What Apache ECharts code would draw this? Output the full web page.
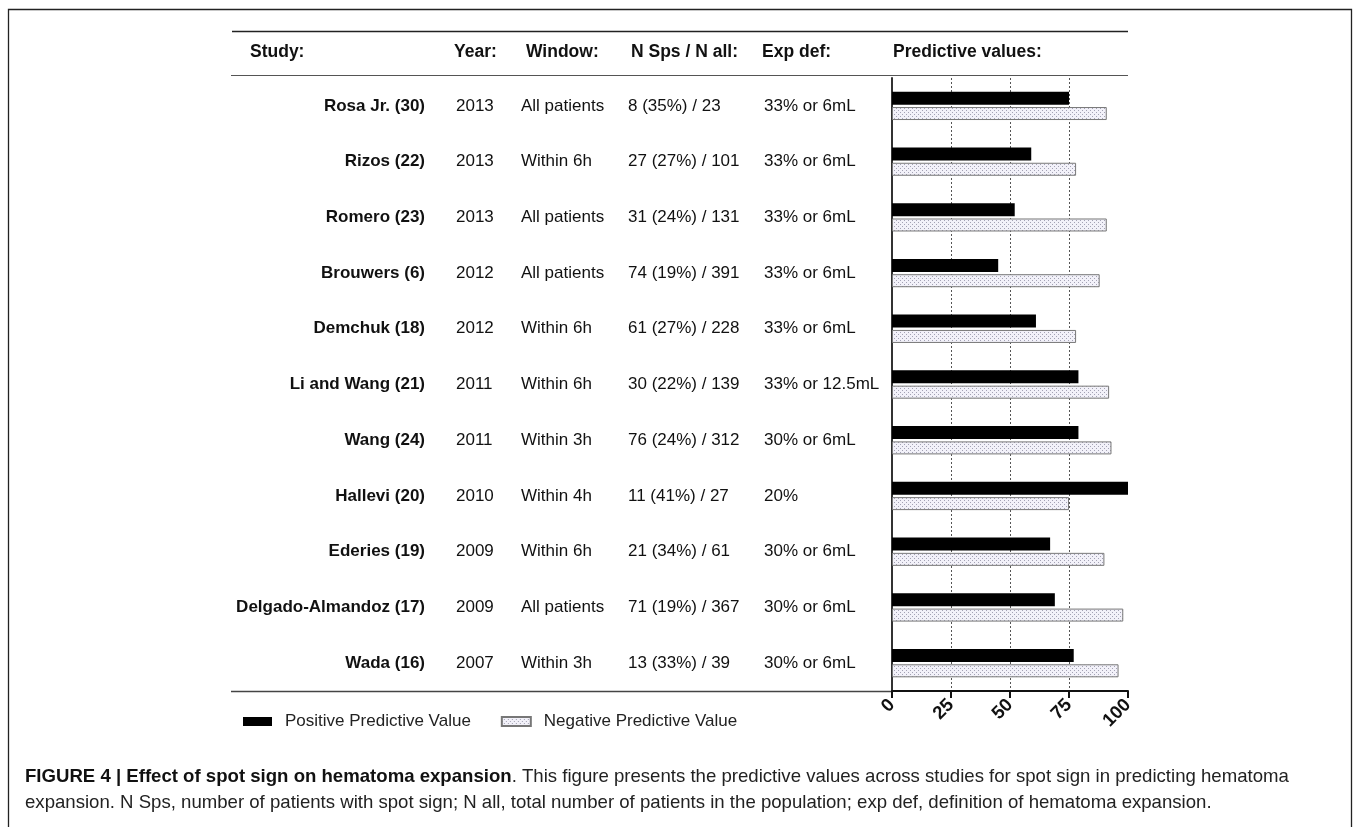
<!DOCTYPE html>
<html>
<head>
<meta charset="utf-8">
<script src="https://cdn.jsdelivr.net/npm/echarts@6/dist/echarts.min.js"></script>
<style>
html,body{margin:0;padding:0;background:#fff;}
#chart{width:1356px;height:827px;}
</style>
</head>
<body>
<div id="chart"></div>
<script>
var studies = ['Rosa Jr. (30)','Rizos (22)','Romero (23)','Brouwers (6)','Demchuk (18)','Li and Wang (21)','Wang (24)','Hallevi (20)','Ederies (19)','Delgado-Almandoz (17)','Wada (16)'];
var years = ['2013','2013','2013','2012','2012','2011','2011','2010','2009','2009','2007'];
var windows = ['All patients','Within 6h','All patients','All patients','Within 6h','Within 6h','Within 3h','Within 4h','Within 6h','All patients','Within 3h'];
var nSps = ['8 (35%) / 23','27 (27%) / 101','31 (24%) / 131','74 (19%) / 391','61 (27%) / 228','30 (22%) / 139','76 (24%) / 312','11 (41%) / 27','21 (34%) / 61','71 (19%) / 367','13 (33%) / 39'];
var expDef = ['33% or 6mL','33% or 6mL','33% or 6mL','33% or 6mL','33% or 6mL','33% or 12.5mL','30% or 6mL','20%','30% or 6mL','30% or 6mL','30% or 6mL'];
var ppv = [75,59,52,45,61,79,79,100,67,69,77];
var npv = [91,78,91,88,78,92,93,75,90,98,96];
var headers = ['Study:','Year:','Window:','N Sps / N all:','Exp def:','Predictive values:'];
var seriesNames = ['Positive Predictive Value','Negative Predictive Value'];
var xTicks = [0,25,50,75,100];

var FONT = 'Liberation Sans, Arial, sans-serif';
var GRID_LEFT = 892, GRID_TOP = 78, GRID_BOTTOM = 136, GRID_RIGHT = 228;

// dotted pattern for NPV bars
var pc = document.createElement('canvas');
pc.width = 4; pc.height = 4;
var pctx = pc.getContext('2d');
pctx.fillStyle = '#f2f1f9'; pctx.fillRect(0,0,4,4);
pctx.fillStyle = '#a3a2b4';
pctx.fillRect(0,0,1,1); pctx.fillRect(2,2,1,1);

function colAxis(data, xStart, bold, alignRight) {
  return {
    type: 'category', data: data, inverse: true, position: 'left', gridIndex: 0,
    axisLine: {show: false}, axisTick: {show: false}, splitLine: {show: false},
    axisLabel: {
      color: '#111', fontFamily: FONT, fontSize: 17, fontWeight: bold ? 'bold' : 'normal',
      align: alignRight ? 'right' : 'left',
      margin: GRID_LEFT - xStart, interval: 0
    }
  };
}

var chart = echarts.init(document.getElementById('chart'), null, {renderer: 'canvas'});

var headerX = [250, 454, 526, 631, 762, 893];
var graphics = [
  {type: 'rect', shape: {x: 8.5, y: 9.5, width: 1343, height: 830}, style: {fill: 'none', stroke: '#222', lineWidth: 1.3}, silent: true},
  {type: 'line', shape: {x1: 232, y1: 31.5, x2: 1128, y2: 31.5}, style: {stroke: '#222', lineWidth: 1.5}},
  {type: 'line', shape: {x1: 231, y1: 75.5, x2: 1128, y2: 75.5}, style: {stroke: '#555', lineWidth: 1.2}},
  {type: 'line', shape: {x1: 231, y1: 691.5, x2: 892, y2: 691.5}, style: {stroke: '#444', lineWidth: 1.5}},
  {type: 'text', left: 25, top: 767, style: {
    text: '{b|FIGURE 4 | Effect of spot sign on hematoma expansion}. This figure presents the predictive values across studies for spot sign in predicting hematoma',
    font: '18.6px ' + FONT, fill: '#222',
    rich: {b: {fontWeight: 'bold', fontSize: 18.6, fontFamily: FONT, fill: '#111'}}
  }},
  {type: 'text', left: 25, top: 793, style: {
    text: 'expansion. N Sps, number of patients with spot sign; N all, total number of patients in the population; exp def, definition of hematoma expansion.',
    font: '18.6px ' + FONT, fill: '#222'
  }}
];
headers.forEach(function (h, i) {
  graphics.push({type: 'text', left: headerX[i], top: 43, style: {text: h, font: 'bold 17.5px ' + FONT, fill: '#111'}});
});

chart.setOption({
  animation: false,
  backgroundColor: '#fff',
  grid: {left: GRID_LEFT, top: GRID_TOP, bottom: GRID_BOTTOM, right: GRID_RIGHT, containLabel: false},
  legend: {
    left: 243, top: 713, itemWidth: 29, itemHeight: 9, itemGap: 30, padding: 0,
    icon: 'rect',
    data: seriesNames,
    textStyle: {fontFamily: FONT, fontSize: 17, color: '#222', padding: [0, 0, 0, 8]}
  },
  xAxis: {
    type: 'value', min: 0, max: 100, interval: 25,
    axisLine: {show: true, lineStyle: {color: '#111', width: 2}},
    axisTick: {show: true, inside: false, length: 7, lineStyle: {color: '#111', width: 2}},
    splitLine: {show: true, showMinLine: false, showMaxLine: false, lineStyle: {color: '#555', type: [2, 2], width: 1}},
    axisLabel: {rotate: 45, fontFamily: FONT, fontSize: 18.5, fontWeight: 'bold', color: '#111', margin: 11,
      formatter: function (v) { return xTicks.indexOf(v) >= 0 ? String(v) : ''; }}
  },
  yAxis: [
    {
      type: 'category', data: studies, inverse: true, position: 'left',
      axisLine: {show: true, lineStyle: {color: '#333', width: 2}},
      axisTick: {show: false}, splitLine: {show: false},
      axisLabel: {color: '#111', fontFamily: FONT, fontSize: 17, fontWeight: 'bold', margin: GRID_LEFT - 425, interval: 0}
    },
    colAxis(years, 456, false, false),
    colAxis(windows, 521, false, false),
    colAxis(nSps, 628, false, false),
    colAxis(expDef, 764, false, false)
  ],
  series: [
    {
      name: seriesNames[0], type: 'bar', yAxisIndex: 0, data: ppv,
      barWidth: 13, barGap: '18%',
      itemStyle: {color: '#000'}
    },
    {
      name: seriesNames[1], type: 'bar', yAxisIndex: 0, data: npv,
      barWidth: 13, barGap: '18%',
      itemStyle: {color: {image: pc, repeat: 'repeat'}, borderColor: '#777', borderWidth: 1}
    }
  ],
  graphic: graphics
});
</script>
</body>
</html>
